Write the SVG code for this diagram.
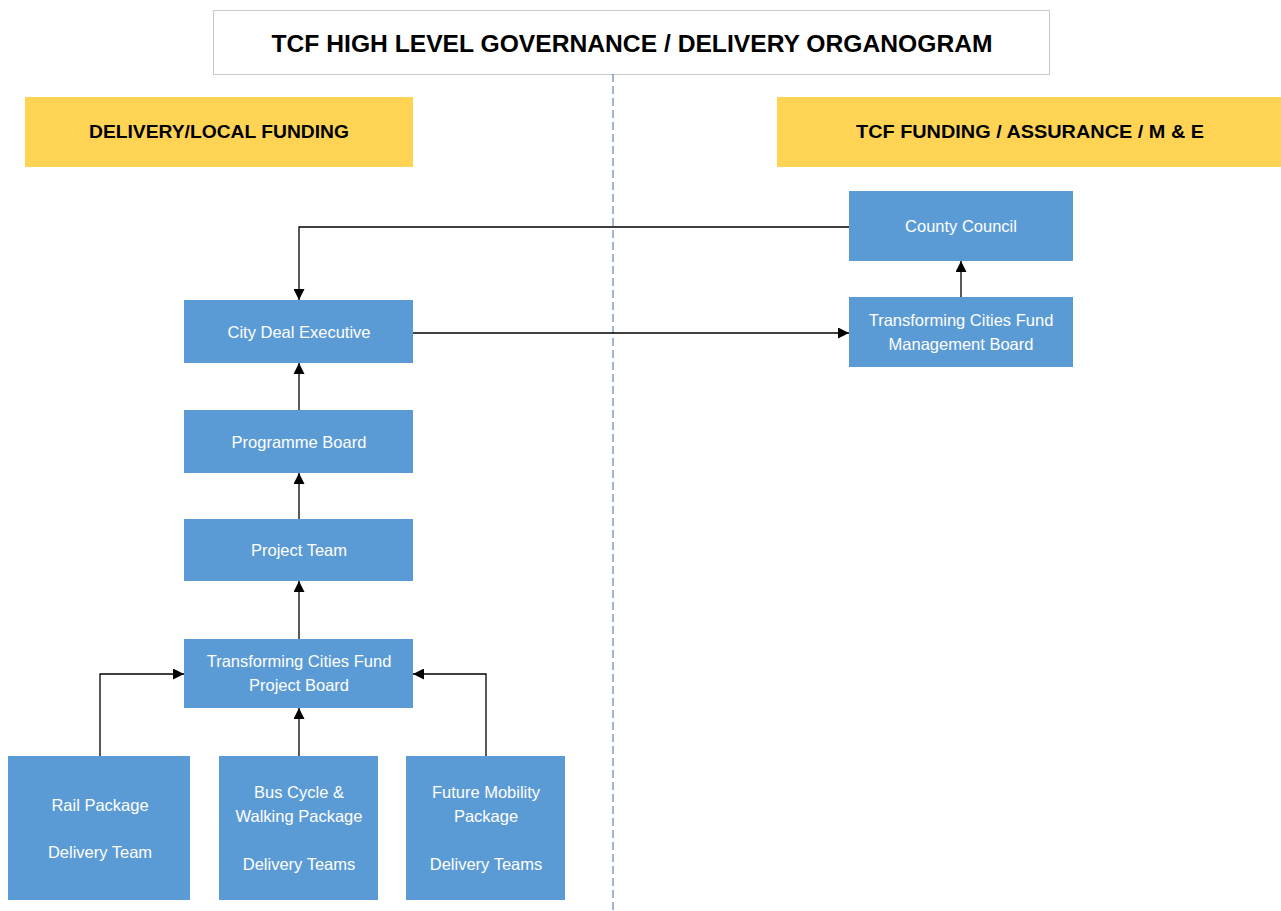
<svg xmlns="http://www.w3.org/2000/svg" width="1281" height="911" viewBox="0 0 1281 911">
<defs>
<style>
.node{fill:#5b9bd5;}
.nt{font-family:"Liberation Sans",Arial,sans-serif;font-size:16.5px;fill:#ffffff;text-anchor:middle;}
.hdr{fill:#ffd455;}
.ht{font-family:"Liberation Sans",Arial,sans-serif;font-size:18px;font-weight:bold;fill:#000;text-anchor:middle;}
.conn{fill:none;stroke:#000;stroke-width:1.3;marker-end:url(#arr);}
</style>
<marker id="arr" viewBox="0 0 10 10" refX="10" refY="5" markerWidth="12" markerHeight="11" markerUnits="userSpaceOnUse" orient="auto">
<path d="M0,0 L10,5 L0,10 z" fill="#000"/>
</marker>
</defs>
<rect width="1281" height="911" fill="#ffffff"/>
<g id="title">
<rect x="213.5" y="10.5" width="836" height="64" fill="#fff" stroke="#c8c8c8" stroke-width="1"/>
<text x="632" y="52" font-family="'Liberation Sans',Arial,sans-serif" font-size="24" font-weight="bold" text-anchor="middle" textLength="721" lengthAdjust="spacingAndGlyphs">TCF HIGH LEVEL GOVERNANCE / DELIVERY ORGANOGRAM</text>
</g>
<line x1="613" y1="74" x2="613" y2="911" stroke="#41719c" stroke-width="1" stroke-dasharray="8,4"/>
<g id="hdr-left">
<rect class="hdr" x="25" y="97" width="388" height="70"/>
<text class="ht" x="219" y="138" textLength="260" lengthAdjust="spacingAndGlyphs">DELIVERY/LOCAL FUNDING</text>
</g>
<g id="hdr-right">
<rect class="hdr" x="777" y="97" width="504" height="70"/>
<text class="ht" x="1030" y="138" textLength="348" lengthAdjust="spacingAndGlyphs">TCF FUNDING / ASSURANCE / M &amp; E</text>
</g>
<g id="connectors">
<path class="conn" d="M849,227 H299 V300"/>
<path class="conn" d="M413,333 H849"/>
<path class="conn" d="M961,297 V261"/>
<path class="conn" d="M299,410 V363"/>
<path class="conn" d="M299,519 V473"/>
<path class="conn" d="M299,639 V581"/>
<path class="conn" d="M100,756 V674 H184"/>
<path class="conn" d="M299,756 V708"/>
<path class="conn" d="M486,756 V674 H413"/>
</g>
<g id="county-council">
<rect class="node" x="849" y="191" width="224" height="70"/>
<text class="nt" x="961" y="232">County Council</text>
</g>
<g id="tcf-management-board">
<rect class="node" x="849" y="297" width="224" height="70"/>
<text class="nt" x="961" y="326">Transforming Cities Fund</text>
<text class="nt" x="961" y="350">Management Board</text>
</g>
<g id="city-deal-executive">
<rect class="node" x="184" y="300" width="229" height="63"/>
<text class="nt" x="299" y="338">City Deal Executive</text>
</g>
<g id="programme-board">
<rect class="node" x="184" y="410" width="229" height="63"/>
<text class="nt" x="299" y="448">Programme Board</text>
</g>
<g id="project-team">
<rect class="node" x="184" y="519" width="229" height="62"/>
<text class="nt" x="299" y="556">Project Team</text>
</g>
<g id="tcf-project-board">
<rect class="node" x="184" y="639" width="229" height="69"/>
<text class="nt" x="299" y="667">Transforming Cities Fund</text>
<text class="nt" x="299" y="691">Project Board</text>
</g>
<g id="rail-package">
<rect class="node" x="8" y="756" width="182" height="144"/>
<text class="nt" x="100" y="811">Rail Package</text>
<text class="nt" x="100" y="858">Delivery Team</text>
</g>
<g id="bus-cycle-walking">
<rect class="node" x="219" y="756" width="159" height="144"/>
<text class="nt" x="299" y="798">Bus Cycle &amp;</text>
<text class="nt" x="299" y="822">Walking Package</text>
<text class="nt" x="299" y="870">Delivery Teams</text>
</g>
<g id="future-mobility">
<rect class="node" x="406" y="756" width="159" height="144"/>
<text class="nt" x="486" y="798">Future Mobility</text>
<text class="nt" x="486" y="822">Package</text>
<text class="nt" x="486" y="870">Delivery Teams</text>
</g>
</svg>
